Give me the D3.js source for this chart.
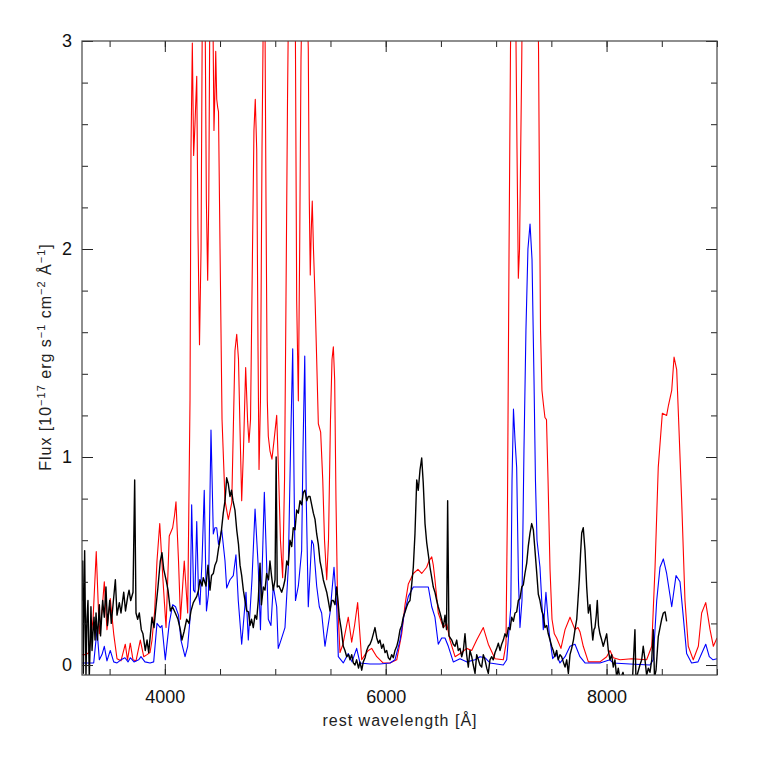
<!DOCTYPE html>
<html><head><meta charset="utf-8">
<script src="https://cdn.jsdelivr.net/npm/d3@7"></script>
<style>body{margin:0;background:#fff}svg{display:block}</style>
</head><body><svg id="c" width="757" height="757"></svg>
<script>
// ---- data ----
const xMajorTicks = [4000, 6000, 8000];
const xMinorTicks = [3500, 4000, 4500, 5000, 5500, 6000, 6500, 7000, 7500, 8000, 8500, 9000];
const yMajorTicks = [0, 1, 2, 3];
const yMinorTicks = [0, 0.2, 0.4, 0.6, 0.8, 1, 1.2, 1.4, 1.6, 1.8, 2, 2.2, 2.4, 2.6, 2.8, 3];
const xTitle = "rest wavelength [Å]";

// observed spectrum (black) [wavelength, flux]
const observedSpec = [[3250,0.31],[3256,0.50],[3262,-0.04],[3274,0.55],[3286,-0.05],[3295,0.22],[3304,0.31],[3316,-0.06],[3325,0.12],[3331,0.28],[3341,0.07],[3350,0.16],[3359,0.23],[3368,0.12],[3377,0.25],[3390,0.12],[3407,0.29],[3418,0.14],[3437,0.31],[3452,0.23],[3467,0.375],[3481,0.19],[3501,0.31],[3515,0.20],[3531,0.29],[3552,0.41],[3567,0.24],[3588,0.30],[3603,0.25],[3628,0.35],[3644,0.26],[3664,0.33],[3676,0.36],[3691,0.31],[3712,0.35],[3727,0.89],[3739,0.25],[3754,0.22],[3769,0.25],[3787,0.17],[3802,0.15],[3823,0.07],[3839,0.12],[3854,0.06],[3870,0.15],[3884,0.23],[3902,0.18],[3920,0.28],[3938,0.375],[3959,0.50],[3974,0.54],[3990,0.46],[4011,0.41],[4029,0.36],[4050,0.26],[4069,0.28],[4095,0.25],[4119,0.22],[4140,0.17],[4155,0.12],[4174,0.16],[4198,0.22],[4219,0.20],[4237,0.26],[4258,0.30],[4289,0.33],[4305,0.36],[4318,0.41],[4337,0.38],[4348,0.42],[4373,0.38],[4391,0.48],[4409,0.36],[4423,0.43],[4439,0.44],[4454,0.48],[4470,0.50],[4486,0.56],[4500,0.60],[4513,0.65],[4529,0.73],[4545,0.79],[4560,0.90],[4575,0.87],[4590,0.81],[4604,0.84],[4617,0.79],[4635,0.745],[4651,0.65],[4667,0.58],[4681,0.48],[4696,0.43],[4711,0.36],[4726,0.31],[4741,0.26],[4758,0.255],[4771,0.19],[4785,0.22],[4801,0.18],[4817,0.24],[4832,0.22],[4846,0.31],[4862,0.49],[4875,0.29],[4892,0.375],[4907,0.36],[4922,0.44],[4939,0.41],[4952,0.50],[4966,0.43],[4982,0.36],[4998,0.41],[5008,1.00],[5018,0.375],[5034,0.38],[5058,0.35],[5073,0.375],[5088,0.41],[5104,0.50],[5118,0.48],[5133,0.60],[5149,0.57],[5163,0.66],[5179,0.65],[5194,0.745],[5209,0.73],[5224,0.79],[5239,0.77],[5254,0.83],[5269,0.84],[5285,0.79],[5299,0.81],[5315,0.81],[5330,0.77],[5345,0.73],[5360,0.70],[5375,0.63],[5390,0.58],[5405,0.50],[5420,0.46],[5435,0.41],[5450,0.38],[5466,0.35],[5480,0.31],[5496,0.26],[5511,0.31],[5526,0.31],[5541,0.29],[5556,0.375],[5568,0.31],[5580,0.23],[5598,0.17],[5616,0.09],[5631,0.07],[5647,0.04],[5663,0.05],[5677,0.025],[5692,0.05],[5707,0.01],[5722,0.0],[5737,0.025],[5754,-0.015],[5767,0.015],[5783,-0.025],[5797,0.015],[5813,0.035],[5828,0.07],[5843,0.09],[5858,0.10],[5873,0.12],[5888,0.15],[5903,0.18],[5919,0.13],[5934,0.105],[5948,0.12],[5964,0.08],[5978,0.10],[5994,0.06],[6009,0.07],[6024,0.035],[6039,0.025],[6054,0.05],[6069,0.035],[6084,0.07],[6100,0.09],[6114,0.12],[6130,0.17],[6145,0.19],[6159,0.23],[6175,0.255],[6190,0.28],[6205,0.30],[6220,0.31],[6235,0.385],[6250,0.47],[6265,0.63],[6281,0.89],[6295,0.84],[6311,0.94],[6326,0.995],[6340,0.875],[6356,0.68],[6371,0.59],[6386,0.53],[6401,0.47],[6417,0.42],[6431,0.375],[6446,0.35],[6462,0.31],[6476,0.28],[6492,0.25],[6507,0.22],[6522,0.18],[6537,0.24],[6551,0.17],[6561,0.79],[6573,0.14],[6598,0.12],[6612,0.10],[6628,0.09],[6643,0.12],[6657,0.07],[6673,0.08],[6688,0.04],[6703,0.07],[6718,0.15],[6733,0.05],[6748,-0.01],[6763,0.07],[6779,0.04],[6793,0.0],[6809,-0.04],[6824,0.05],[6839,0.025],[6854,0.0],[6869,-0.01],[6884,0.05],[6899,0.025],[6915,-0.015],[6929,-0.04],[6944,0.025],[6960,0.04],[6974,0.025],[6990,0.06],[7005,0.08],[7020,0.105],[7035,0.07],[7050,0.10],[7065,0.12],[7080,0.15],[7096,0.135],[7110,0.18],[7126,0.17],[7141,0.23],[7156,0.21],[7171,0.25],[7186,0.255],[7201,0.31],[7216,0.32],[7232,0.375],[7246,0.385],[7261,0.44],[7277,0.49],[7291,0.57],[7307,0.635],[7322,0.68],[7337,0.65],[7352,0.55],[7368,0.44],[7382,0.34],[7397,0.31],[7413,0.26],[7427,0.24],[7442,0.18],[7458,0.19],[7472,0.15],[7488,0.12],[7503,0.09],[7517,0.07],[7532,0.04],[7548,0.07],[7562,0.025],[7578,0.05],[7593,0.04],[7608,0.015],[7624,-0.01],[7639,0.025],[7654,-0.04],[7669,0.05],[7684,0.08],[7700,0.12],[7714,0.17],[7730,0.22],[7741,0.31],[7753,0.41],[7764,0.53],[7775,0.635],[7789,0.66],[7805,0.55],[7820,0.375],[7835,0.25],[7850,0.29],[7864,0.19],[7875,0.12],[7886,0.17],[7895,0.18],[7907,0.24],[7916,0.31],[7927,0.19],[7940,0.15],[7956,0.12],[7970,0.09],[7986,0.12],[8001,0.15],[8016,0.07],[8031,0.025],[8046,0.05],[8061,-0.01],[8076,0.025],[8092,-0.06],[8106,-0.015],[8122,-0.07],[8149,-0.035],[8176,-0.10],[8203,-0.05],[8230,-0.12],[8257,0.17],[8266,-0.07],[8284,-0.035],[8302,0.0],[8318,0.025],[8332,0.09],[8348,0.025],[8363,-0.05],[8378,-0.015],[8393,-0.035],[8409,0.025],[8423,0.17],[8434,-0.06],[8448,-0.025],[8468,0.135],[8484,0.18],[8499,0.22],[8514,0.25],[8530,0.255],[8544,0.21]];

// model spectrum (red)
const redModel = [[3250,0.05],[3286,0.05],[3313,0.06],[3350,0.22],[3379,0.545],[3407,0.15],[3431,0.26],[3452,0.40],[3476,0.17],[3506,0.32],[3537,0.15],[3567,0.03],[3603,0.02],[3642,0.10],[3662,0.025],[3687,0.105],[3712,0.025],[3739,0.02],[3778,0.12],[3809,0.04],[3839,0.05],[3866,0.06],[3884,0.12],[3908,0.26],[3929,0.50],[3954,0.68],[3983,0.41],[4011,0.18],[4040,0.62],[4071,0.66],[4088,0.72],[4101,0.785],[4124,0.50],[4142,0.22],[4176,0.50],[4207,0.25],[4228,1.27],[4237,2.48],[4249,2.99],[4261,2.45],[4273,2.60],[4289,2.83],[4300,2.09],[4314,1.54],[4328,2.00],[4341,3.3],[4359,3.6],[4376,2.24],[4388,1.85],[4398,2.24],[4409,3.3],[4423,3.4],[4436,3.1],[4445,2.57],[4454,2.76],[4461,2.95],[4470,2.72],[4479,2.68],[4486,2.66],[4500,2.0],[4518,1.18],[4545,0.79],[4575,0.70],[4606,0.78],[4620,1.13],[4635,1.51],[4651,1.59],[4667,1.47],[4681,1.13],[4696,0.79],[4712,1.03],[4732,1.43],[4750,1.17],[4762,1.07],[4776,1.18],[4794,2.0],[4807,2.57],[4819,2.72],[4832,2.48],[4844,1.51],[4853,0.94],[4866,1.27],[4880,2.48],[4893,3.2],[4907,3.1],[4916,2.24],[4928,1.27],[4937,1.10],[4952,1.03],[4970,0.99],[4989,1.08],[5013,1.20],[5029,0.94],[5047,0.60],[5067,0.42],[5084,0.89],[5097,1.75],[5111,2.72],[5124,3.4],[5152,3.8],[5179,3.4],[5194,1.75],[5209,1.27],[5221,2.0],[5233,2.91],[5251,3.5],[5278,3.5],[5299,2.96],[5308,2.24],[5317,1.875],[5326,2.09],[5335,2.23],[5346,2.0],[5360,1.77],[5375,1.47],[5390,1.16],[5411,1.12],[5430,0.89],[5446,0.60],[5466,0.41],[5482,0.60],[5500,1.18],[5514,1.47],[5526,1.53],[5538,1.37],[5550,0.79],[5564,0.31],[5586,0.06],[5613,0.10],[5661,0.23],[5692,0.11],[5718,0.19],[5746,0.30],[5783,0.025],[5813,0.05],[5843,0.07],[5873,0.08],[5919,0.04],[5976,0.01],[6039,0.01],[6100,0.025],[6145,0.15],[6175,0.29],[6205,0.39],[6250,0.44],[6292,0.46],[6326,0.44],[6371,0.47],[6392,0.50],[6417,0.52],[6431,0.48],[6446,0.41],[6476,0.25],[6522,0.18],[6552,0.20],[6582,0.12],[6628,0.04],[6688,0.06],[6733,0.08],[6779,0.07],[6824,0.12],[6884,0.18],[6929,0.10],[6990,0.03],[7065,0.025],[7089,0.10],[7103,0.79],[7117,2.0],[7130,2.96],[7144,3.5],[7171,3.5],[7189,2.48],[7201,1.86],[7212,2.0],[7232,2.91],[7243,3.6],[7280,4.2],[7316,4.5],[7352,4.0],[7370,3.5],[7384,2.96],[7393,2.24],[7402,1.61],[7415,1.32],[7429,1.25],[7442,1.19],[7456,1.18],[7470,0.89],[7488,0.46],[7506,0.22],[7527,0.15],[7548,0.13],[7587,0.08],[7624,0.17],[7669,0.23],[7714,0.17],[7741,0.18],[7759,0.16],[7789,0.09],[7835,0.015],[7940,0.015],[8001,0.04],[8031,0.07],[8061,0.035],[8122,0.025],[8228,0.03],[8363,0.025],[8409,0.09],[8439,0.47],[8468,0.95],[8505,1.21],[8544,1.20],[8561,1.25],[8590,1.32],[8611,1.48],[8635,1.42],[8656,1.13],[8680,0.79],[8710,0.31],[8740,0.09],[8785,0.025],[8831,0.09],[8861,0.25],[8898,0.30],[8937,0.17],[8967,0.09],[9000,0.13]];

// model spectrum (blue)
const blueModel = [[3250,0.01],[3295,0.01],[3356,0.01],[3386,0.17],[3407,0.025],[3431,0.05],[3452,0.09],[3476,0.02],[3506,0.07],[3537,0.015],[3567,0.01],[3603,0.025],[3639,0.035],[3667,0.015],[3687,0.035],[3721,0.015],[3763,0.025],[3784,0.04],[3820,0.015],[3866,0.01],[3899,0.015],[3929,0.20],[3959,0.18],[3974,0.19],[4004,0.025],[4040,0.20],[4071,0.29],[4097,0.28],[4124,0.24],[4146,0.12],[4183,0.04],[4207,0.09],[4228,0.22],[4243,0.77],[4260,0.36],[4273,0.35],[4289,0.69],[4305,0.34],[4318,0.29],[4337,0.50],[4357,0.84],[4377,0.26],[4395,0.34],[4418,1.13],[4439,0.63],[4454,0.66],[4470,0.66],[4486,0.58],[4515,0.65],[4545,0.50],[4560,0.37],[4590,0.41],[4620,0.43],[4644,0.53],[4665,0.31],[4696,0.10],[4735,0.35],[4756,0.12],[4789,0.41],[4817,0.75],[4846,0.47],[4866,0.17],[4901,0.83],[4921,0.50],[4937,0.22],[4961,0.19],[4982,0.38],[5013,0.28],[5027,0.08],[5052,0.12],[5088,0.18],[5118,0.47],[5138,1.03],[5158,1.52],[5170,0.89],[5183,0.31],[5209,0.38],[5239,0.55],[5251,1.03],[5267,1.485],[5281,0.79],[5299,0.28],[5330,0.60],[5346,0.58],[5375,0.38],[5399,0.28],[5420,0.25],[5450,0.09],[5496,0.25],[5532,0.47],[5556,0.28],[5571,0.04],[5616,0.01],[5661,0.055],[5695,0.015],[5737,0.08],[5767,0.01],[5858,0.005],[5948,0.005],[6039,0.01],[6084,0.025],[6130,0.12],[6166,0.24],[6205,0.33],[6250,0.375],[6311,0.375],[6386,0.375],[6417,0.28],[6446,0.23],[6476,0.10],[6507,0.13],[6537,0.13],[6567,0.09],[6612,0.015],[6673,0.03],[6736,0.015],[6809,0.025],[6854,0.04],[6899,0.035],[6944,0.01],[7065,0.0],[7096,0.025],[7133,0.28],[7144,0.89],[7157,1.23],[7171,1.08],[7186,0.95],[7202,0.41],[7216,0.18],[7234,0.31],[7252,1.03],[7270,1.61],[7288,2.0],[7307,2.12],[7325,1.95],[7343,1.37],[7356,0.89],[7370,0.60],[7397,0.47],[7427,0.17],[7451,0.35],[7481,0.15],[7512,0.03],[7542,0.055],[7578,0.01],[7624,0.04],[7669,0.09],[7714,0.10],[7759,0.04],[7805,0.01],[7940,0.01],[8031,0.025],[8058,0.01],[8212,0.005],[8393,0.0],[8423,0.025],[8454,0.31],[8484,0.47],[8514,0.51],[8544,0.44],[8590,0.28],[8629,0.43],[8665,0.40],[8695,0.23],[8725,0.055],[8770,0.01],[8828,0.015],[8861,0.055],[8898,0.10],[8930,0.04],[8964,0.025],[9000,0.03]];

// ---- drawing ----
const L = 82, R = 717, T = 41, B = 675;
const svg = d3.select("#c");
const font = "'Liberation Sans', Arial, Helvetica, sans-serif";
const x = d3.scaleLinear().domain([3250, 9000]).range([L, R]);
const y = d3.scaleLinear().domain([-0.048, 3]).range([B, T]);

svg.append("rect").attr("width", 757).attr("height", 757).attr("fill", "#fff");
svg.append("defs").append("clipPath").attr("id", "plotclip")
  .append("rect").attr("x", L).attr("y", T).attr("width", R - L).attr("height", B - T);

const line = d3.line().x(d => x(d[0])).y(d => y(d[1]));
const g = svg.append("g").attr("clip-path", "url(#plotclip)");
g.append("path").datum(redModel).attr("d", line).attr("fill", "none")
  .attr("stroke", "#ff0000").attr("stroke-width", 1.1).attr("stroke-linejoin", "round");
g.append("path").datum(blueModel).attr("d", line).attr("fill", "none")
  .attr("stroke", "#0000ff").attr("stroke-width", 1.1).attr("stroke-linejoin", "round");
g.append("path").datum(observedSpec).attr("d", line).attr("fill", "none")
  .attr("stroke", "#000").attr("stroke-width", 1.4).attr("stroke-linejoin", "round");

function styleAxis(sel) {
  sel.select(".domain").remove();
  sel.selectAll(".tick line").attr("stroke", "#222").attr("stroke-width", 1);
  sel.selectAll(".tick text").attr("fill", "#111").style("font-family", font).style("font-size", "18px");
}
// bottom
svg.append("g").attr("transform", `translate(0,${B})`)
  .call(d3.axisBottom(x).tickValues(xMinorTicks).tickSize(-6).tickFormat(""))
  .call(styleAxis);
svg.append("g").attr("transform", `translate(0,${B})`)
  .call(d3.axisBottom(x).tickValues(xMajorTicks).tickSizeInner(-11).tickSizeOuter(0).tickPadding(15).tickFormat(d3.format("d")))
  .call(styleAxis);
// top
svg.append("g").attr("transform", `translate(0,${T})`)
  .call(d3.axisTop(x).tickValues(xMinorTicks).tickSize(-6).tickFormat(""))
  .call(styleAxis);
svg.append("g").attr("transform", `translate(0,${T})`)
  .call(d3.axisTop(x).tickValues(xMajorTicks).tickSize(-11).tickFormat(""))
  .call(styleAxis);
// left
svg.append("g").attr("transform", `translate(${L},0)`)
  .call(d3.axisLeft(y).tickValues(yMinorTicks).tickSize(-6).tickFormat(""))
  .call(styleAxis);
svg.append("g").attr("transform", `translate(${L},0)`)
  .call(d3.axisLeft(y).tickValues(yMajorTicks).tickSizeInner(-11).tickSizeOuter(0).tickPadding(10).tickFormat(d3.format("d")))
  .call(styleAxis);
// right
svg.append("g").attr("transform", `translate(${R},0)`)
  .call(d3.axisRight(y).tickValues(yMinorTicks).tickSize(-6).tickFormat(""))
  .call(styleAxis);
svg.append("g").attr("transform", `translate(${R},0)`)
  .call(d3.axisRight(y).tickValues(yMajorTicks).tickSize(-11).tickFormat(""))
  .call(styleAxis);

// frame
svg.append("rect").attr("x", L).attr("y", T).attr("width", R - L).attr("height", B - T)
  .attr("fill", "none").attr("stroke", "#444").attr("stroke-width", 1.2);

// titles
svg.append("text").attr("x", 400).attr("y", 726).attr("text-anchor", "middle")
  .style("font-family", font).style("font-size", "16px").style("letter-spacing", "1px")
  .attr("fill", "#222").text(xTitle);

const yt = svg.append("text").attr("transform", "translate(51,357) rotate(-90)")
  .attr("text-anchor", "middle").style("font-family", font).style("font-size", "16px")
  .style("letter-spacing", "1px").attr("fill", "#222");
const parts = [["Flux [10", false], ["−17", true], [" erg s", false], ["−1", true], [" cm", false], ["−2", true], [" Å", false], ["−1", true], ["]", false]];
parts.forEach(([t, sup]) => {
  const ts = yt.append("tspan").text(t);
  if (sup) ts.attr("baseline-shift", "super").style("font-size", "11px");
});
</script></body></html>
